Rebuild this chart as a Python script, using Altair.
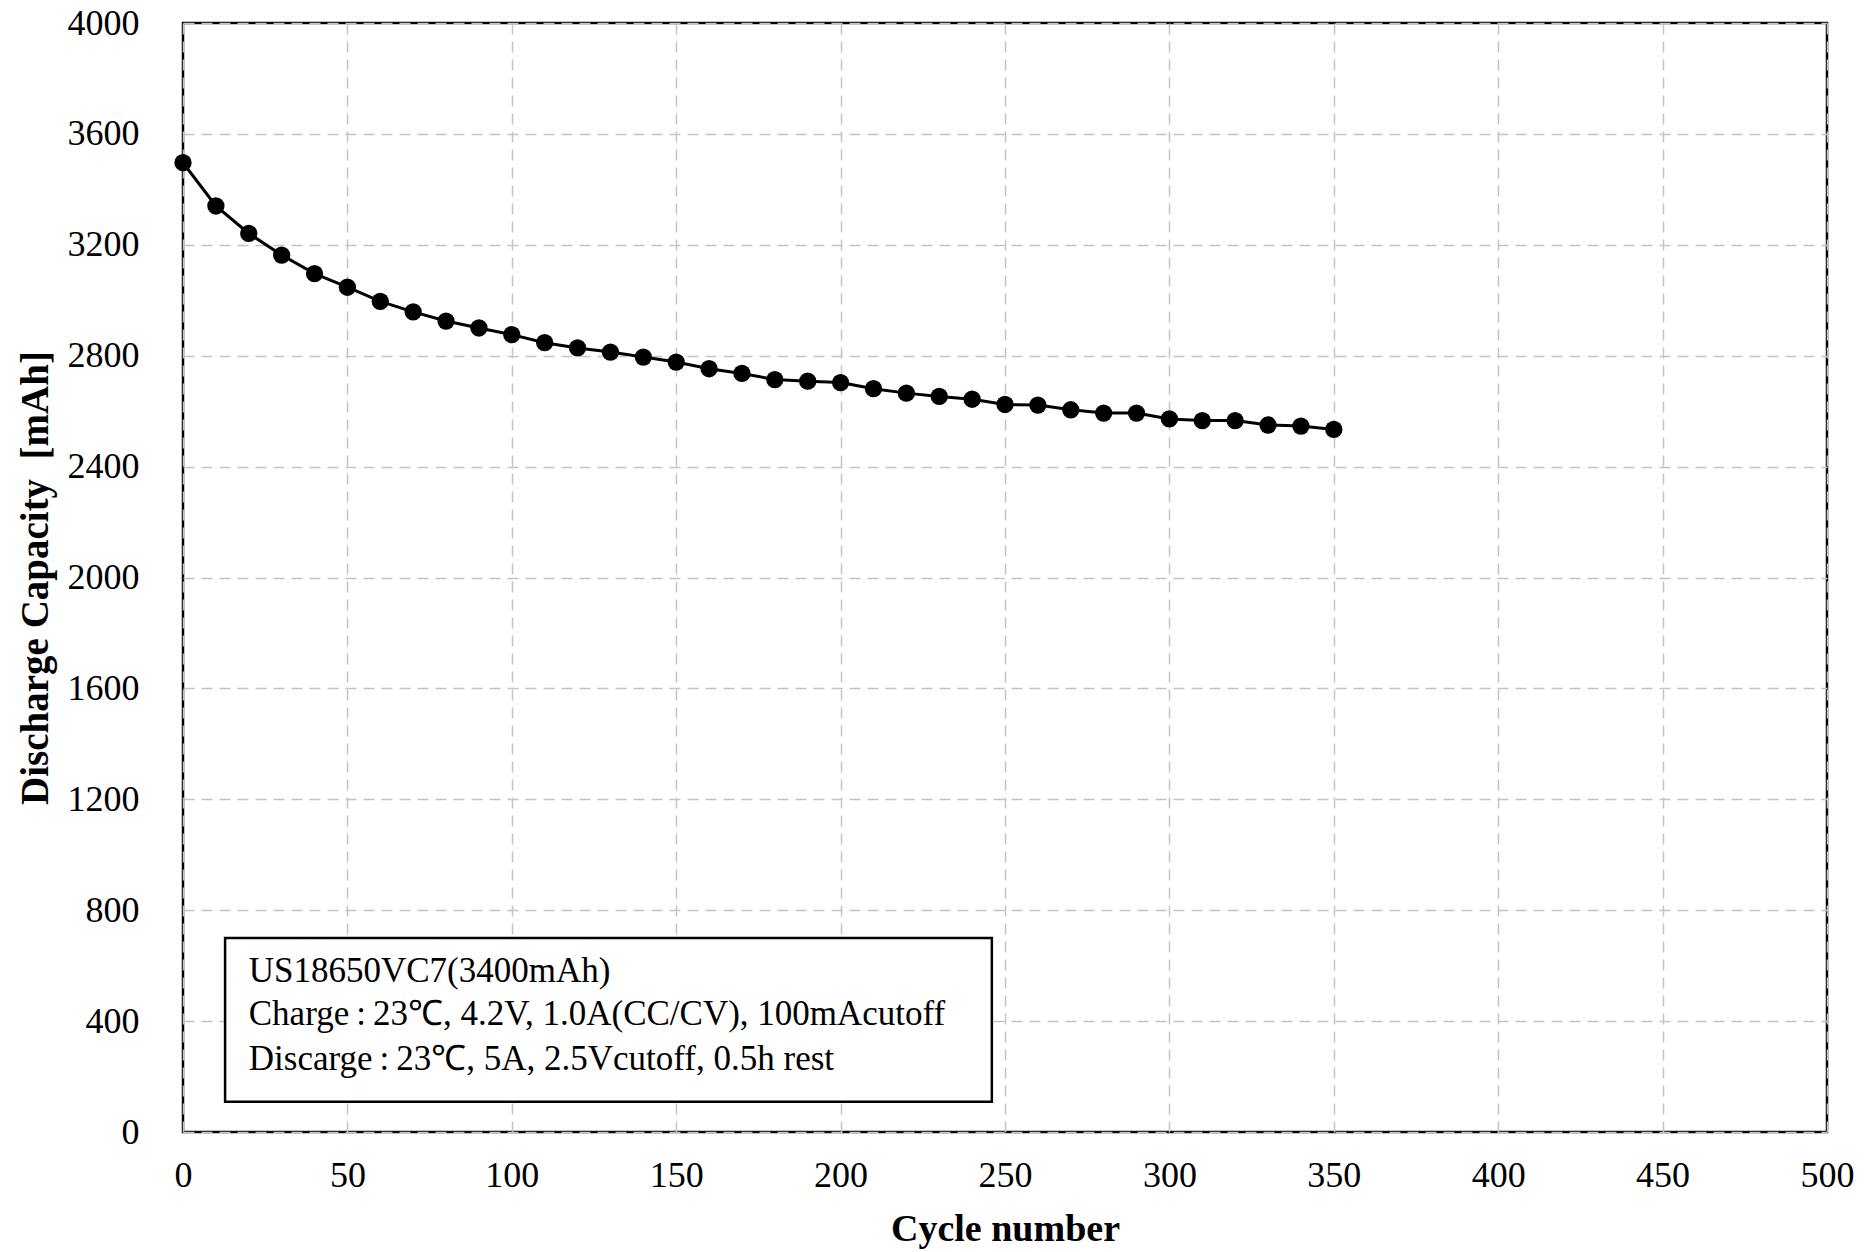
import altair as alt
import pandas as pd

cycles = [0, 10, 20, 30, 40, 50, 60, 70, 80, 90, 100, 110, 120, 130, 140, 150, 160, 170,
          180, 190, 200, 210, 220, 230, 240, 250, 260, 270, 280, 290, 300, 310, 320, 330, 340, 350]
capacity = [3496, 3340, 3241, 3163, 3096, 3047, 2996, 2958, 2925, 2900, 2876, 2847, 2828, 2813,
            2795, 2777, 2753, 2736, 2714, 2708, 2703, 2681, 2665, 2653, 2643, 2624, 2622, 2605,
            2593, 2593, 2572, 2566, 2566, 2550, 2546, 2534]

x_ticks = [0, 50, 100, 150, 200, 250, 300, 350, 400, 450, 500]
y_ticks = [0, 400, 800, 1200, 1600, 2000, 2400, 2800, 3200, 3600, 4000]

note_lines = [
    "US18650VC7(3400mAh)",
    "Charge\u2009:\u200923℃, 4.2V, 1.0A(CC/CV), 100mAcutoff",
    "Discarge\u2009:\u200923℃, 5A, 2.5Vcutoff, 0.5h rest",
]
note_y = [581, 426, 264]
note_x = 20
box_x, box_x2 = 12.8, 246
box_y, box_y2 = 109, 700

FONT = "Liberation Serif"

df = pd.DataFrame({"cycle": cycles, "cap": capacity})
notes = pd.DataFrame({"text": note_lines, "y": note_y, "x": [note_x] * len(note_lines)})
box = pd.DataFrame({"x": [box_x], "x2": [box_x2], "y": [box_y], "y2": [box_y2]})

xscale = alt.Scale(domain=[0, 500], nice=False, zero=False)
yscale = alt.Scale(domain=[0, 4000], nice=False)

xaxis = alt.Axis(values=x_ticks, format="d", title="Cycle number", labelFontSize=36,
                 titleFontSize=38, labelFont=FONT, titleFont=FONT, titleFontWeight="bold",
                 labelPadding=26, tickSize=0, domain=False, grid=True, gridColor="#c4c4c4",
                 gridDash=[11, 7], gridWidth=1.5, labelColor="black", titleColor="black",
                 titlePadding=17, labelFlush=False)
yaxis = alt.Axis(values=y_ticks, format="d", title="Discharge Capacity\u00a0\u00a0[mAh]",
                 labelFontSize=36, titleFontSize=39, labelFont=FONT, titleFont=FONT,
                 titleFontWeight="bold", labelPadding=44, tickSize=0, domain=False, grid=True,
                 gridColor="#c4c4c4", gridDash=[11, 7], gridWidth=1.5, labelColor="black",
                 titleColor="black", titlePadding=12, labelFlush=False)

base = alt.Chart(df)

line = base.mark_line(color="black", strokeWidth=3, clip=False).encode(
    x=alt.X("cycle:Q", scale=xscale, axis=xaxis),
    y=alt.Y("cap:Q", scale=yscale, axis=yaxis),
)
pts = base.mark_circle(color="black", opacity=1, size=300, clip=False).encode(
    x=alt.X("cycle:Q", scale=xscale),
    y=alt.Y("cap:Q", scale=yscale),
)

rect = alt.Chart(box).mark_rect(fill="white", stroke="black", strokeWidth=2.5).encode(
    x=alt.X("x:Q", scale=xscale), x2="x2:Q",
    y=alt.Y("y:Q", scale=yscale), y2="y2:Q",
)
txt = alt.Chart(notes).mark_text(align="left", baseline="middle", font=FONT, fontSize=35,
                                 color="black").encode(
    x=alt.X("x:Q", scale=xscale),
    y=alt.Y("y:Q", scale=yscale),
    text="text:N",
)

chart = alt.layer(rect, txt, line, pts).properties(
    width=1644, height=1109,
    autosize=alt.AutoSizeParams(type="none"),
    padding={"left": 175, "top": 15, "right": 30, "bottom": 121},
    background="white",
).configure_view(stroke="black", strokeWidth=2.5)

chart.save("out.html", embed_options={"renderer": "svg", "actions": False})
